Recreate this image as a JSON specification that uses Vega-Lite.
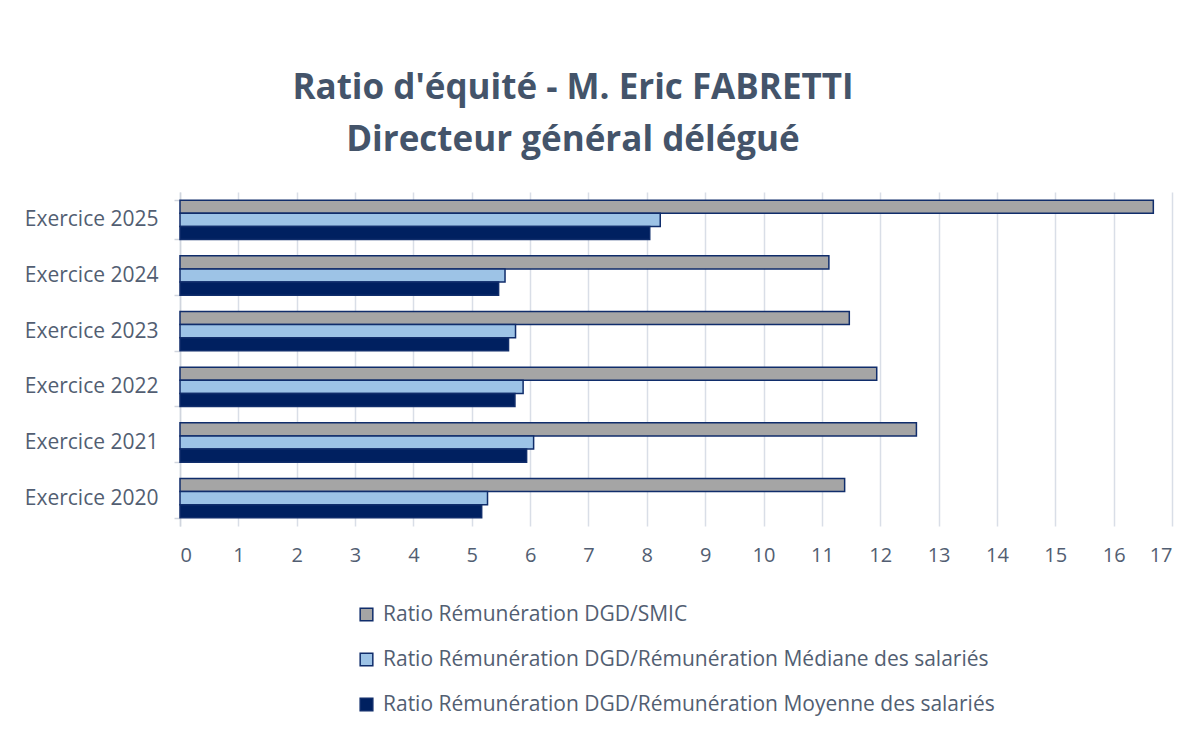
{
  "$schema": "https://vega.github.io/schema/vega-lite/v6.json",
  "width": 992,
  "height": 334,
  "autosize": {"type": "none"},
  "padding": {"left": 180, "top": 192, "right": 17, "bottom": 214},
  "background": "white",
  "title": {
    "text": ["Ratio d'équité - M. Eric FABRETTI", "Directeur général délégué"],
    "font": "Open Sans",
    "fontSize": 35,
    "fontWeight": "bold",
    "color": "#44546a",
    "anchor": "middle",
    "frame": "group",
    "dx": -103,
    "offset": 23,
    "lineHeight": 52
  },
  "data": {
    "values": [
      {"annee": "Exercice 2025", "serie": "Ratio Rémunération DGD/SMIC", "valeur": 16.68},
      {"annee": "Exercice 2025", "serie": "Ratio Rémunération DGD/Rémunération Médiane des salariés", "valeur": 8.23},
      {"annee": "Exercice 2025", "serie": "Ratio Rémunération DGD/Rémunération Moyenne des salariés", "valeur": 8.05},
      {"annee": "Exercice 2024", "serie": "Ratio Rémunération DGD/SMIC", "valeur": 11.12},
      {"annee": "Exercice 2024", "serie": "Ratio Rémunération DGD/Rémunération Médiane des salariés", "valeur": 5.57},
      {"annee": "Exercice 2024", "serie": "Ratio Rémunération DGD/Rémunération Moyenne des salariés", "valeur": 5.46},
      {"annee": "Exercice 2023", "serie": "Ratio Rémunération DGD/SMIC", "valeur": 11.47},
      {"annee": "Exercice 2023", "serie": "Ratio Rémunération DGD/Rémunération Médiane des salariés", "valeur": 5.75},
      {"annee": "Exercice 2023", "serie": "Ratio Rémunération DGD/Rémunération Moyenne des salariés", "valeur": 5.63},
      {"annee": "Exercice 2022", "serie": "Ratio Rémunération DGD/SMIC", "valeur": 11.94},
      {"annee": "Exercice 2022", "serie": "Ratio Rémunération DGD/Rémunération Médiane des salariés", "valeur": 5.88},
      {"annee": "Exercice 2022", "serie": "Ratio Rémunération DGD/Rémunération Moyenne des salariés", "valeur": 5.74},
      {"annee": "Exercice 2021", "serie": "Ratio Rémunération DGD/SMIC", "valeur": 12.62},
      {"annee": "Exercice 2021", "serie": "Ratio Rémunération DGD/Rémunération Médiane des salariés", "valeur": 6.06},
      {"annee": "Exercice 2021", "serie": "Ratio Rémunération DGD/Rémunération Moyenne des salariés", "valeur": 5.94},
      {"annee": "Exercice 2020", "serie": "Ratio Rémunération DGD/SMIC", "valeur": 11.39},
      {"annee": "Exercice 2020", "serie": "Ratio Rémunération DGD/Rémunération Médiane des salariés", "valeur": 5.27},
      {"annee": "Exercice 2020", "serie": "Ratio Rémunération DGD/Rémunération Moyenne des salariés", "valeur": 5.17}
    ]
  },
  "mark": {"type": "bar", "stroke": "#102d6b", "strokeWidth": 1.5},
  "encoding": {
    "y": {
      "field": "annee",
      "type": "nominal",
      "sort": "descending",
      "scale": {"paddingInner": 0.294, "paddingOuter": 0.147},
      "axis": {
        "title": null,
        "tickBand": "extent",
        "domainColor": "#d0d5de",
        "domainWidth": 1.5,
        "tickColor": "#d0d5de",
        "tickWidth": 1.5,
        "tickSize": 6,
        "labelFont": "Open Sans",
        "labelFontSize": 21,
        "labelColor": "#525e72",
        "labelPadding": 16,
        "grid": false
      }
    },
    "yOffset": {
      "field": "serie",
      "type": "nominal",
      "sort": [
        "Ratio Rémunération DGD/SMIC",
        "Ratio Rémunération DGD/Rémunération Médiane des salariés",
        "Ratio Rémunération DGD/Rémunération Moyenne des salariés"
      ],
      "scale": {"paddingInner": 0, "paddingOuter": 0}
    },
    "x": {
      "field": "valeur",
      "type": "quantitative",
      "scale": {"domain": [0, 17], "nice": false},
      "axis": {
        "title": null,
        "values": [0,1,2,3,4,5,6,7,8,9,10,11,12,13,14,15,16,17],
        "domain": false,
        "ticks": false,
        "grid": true,
        "gridColor": "#d9dee7",
        "gridWidth": 1.5,
        "labelFont": "Open Sans",
        "labelFontSize": 20,
        "labelColor": "#525e72",
        "labelPadding": 19
      }
    },
    "color": {
      "field": "serie",
      "type": "nominal",
      "scale": {
        "domain": [
          "Ratio Rémunération DGD/SMIC",
          "Ratio Rémunération DGD/Rémunération Médiane des salariés",
          "Ratio Rémunération DGD/Rémunération Moyenne des salariés"
        ],
        "range": ["#a5a5a5", "#9dc3e6", "#002060"]
      },
      "legend": {
        "title": null,
        "orient": "none",
        "legendX": 176,
        "legendY": 412,
        "direction": "vertical",
        "symbolType": "square",
        "symbolSize": 160,
        "symbolStrokeColor": "#102d6b",
        "symbolStrokeWidth": 1.5,
        "labelFont": "Open Sans",
        "labelFontSize": 21,
        "labelColor": "#525e72",
        "labelOffset": 6,
        "rowPadding": 23,
        "labelLimit": 800
      }
    }
  },
  "config": {"view": {"stroke": null}}
}
